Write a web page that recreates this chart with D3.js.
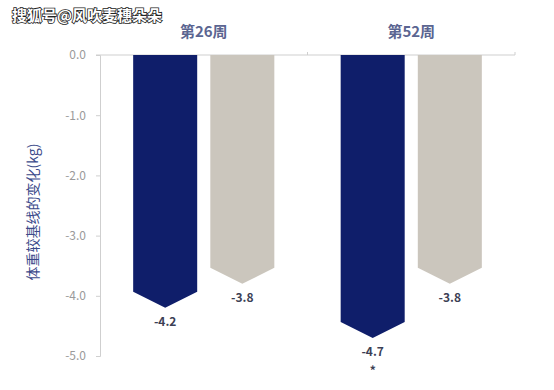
<!DOCTYPE html>
<html>
<head>
<meta charset="utf-8">
<title>体重变化</title>
<script src="https://cdn.jsdelivr.net/npm/d3@7"></script>
<style>
body { margin: 0; background: #fff; }
text { font-family: "Noto Sans CJK SC", "Noto Sans", sans-serif; }
.tick text { fill: #9a9a9a; font-size: 12px; }
.tick line, .domain { stroke: #cfcfcf; }
.val { font-size: 12px; font-weight: bold; fill: #3c3f55; text-anchor: middle; }
</style>
</head>
<body>
<script>
var weeks = ["第26周", "第52周"];
var series = ["A", "B"];
var valuesA = [-4.2, -4.7];
var valuesB = [-3.8, -3.8];
var yTicks = [0, -1, -2, -3, -4, -5];
var marks = ["", "*"];

var width = 554, height = 390;
var margin = {top: 55, right: 39, bottom: 34, left: 100};

// plain hyphen instead of unicode minus
function fmt(v) { return v.toFixed(1); }

var svg = d3.select("body").append("svg")
    .attr("width", width)
    .attr("height", height);

var x = d3.scaleBand()
    .domain(weeks)
    .range([margin.left, width - margin.right]);

var xs = d3.scaleBand()
    .domain(series)
    .range([0, x.bandwidth()])
    .paddingInner(0.17)
    .paddingOuter(0.43);

var y = d3.scaleLinear()
    .domain([0, -5])
    .range([margin.top, height - margin.bottom]);

var color = {A: "#0f1e6a", B: "#cbc6bd"};

// y axis
svg.append("g")
    .attr("transform", "translate(" + margin.left + ",0)")
    .call(d3.axisLeft(y).tickValues(yTicks).tickSize(4).tickPadding(10)
      .tickFormat(fmt));

// top baseline with category separators
svg.append("line")
    .attr("x1", margin.left - 4).attr("x2", width - margin.right)
    .attr("y1", y(0)).attr("y2", y(0))
    .attr("stroke", "#cfcfcf");
svg.selectAll(".sep")
    .data(weeks)
    .enter().append("line")
    .attr("x1", function(d) { return x(d) + x.bandwidth(); })
    .attr("x2", function(d) { return x(d) + x.bandwidth(); })
    .attr("y1", y(0) - 3).attr("y2", y(0))
    .attr("stroke", "#cfcfcf");

// group labels
svg.selectAll(".wk")
    .data(weeks)
    .enter().append("text")
    .attr("x", function(d) { return x(d) + x.bandwidth() / 2; })
    .attr("y", 37)
    .attr("text-anchor", "middle")
    .attr("font-size", 15)
    .attr("font-weight", "bold")
    .attr("fill", "#5b6591")
    .text(function(d) { return d; });

// bars with pointed bottoms
var rows = [];
weeks.forEach(function(w, i) {
  rows.push({week: w, s: "A", v: valuesA[i], mark: marks[i]});
  rows.push({week: w, s: "B", v: valuesB[i], mark: ""});
});

function barPath(d) {
  var x0 = x(d.week) + xs(d.s), bw = xs.bandwidth();
  var tip = bw / 4;
  var yb = y(d.v);
  return "M" + x0 + "," + y(0) +
    "L" + (x0 + bw) + "," + y(0) +
    "L" + (x0 + bw) + "," + (yb - tip) +
    "L" + (x0 + bw / 2) + "," + yb +
    "L" + x0 + "," + (yb - tip) + "Z";
}

svg.selectAll(".bar")
    .data(rows)
    .enter().append("path")
    .attr("d", barPath)
    .attr("fill", function(d) { return color[d.s]; });

svg.selectAll(".val")
    .data(rows)
    .enter().append("text")
    .attr("class", "val")
    .attr("x", function(d) { return x(d.week) + xs(d.s) + xs.bandwidth() / 2; })
    .attr("y", function(d) { return y(d.v) + 18; })
    .text(function(d) { return fmt(d.v); });

svg.selectAll(".mark")
    .data(rows.filter(function(d) { return d.mark; }))
    .enter().append("text")
    .attr("class", "val")
    .attr("x", function(d) { return x(d.week) + xs(d.s) + xs.bandwidth() / 2; })
    .attr("y", function(d) { return y(d.v) + 37; })
    .text(function(d) { return d.mark; });

// y title
svg.append("text")
    .attr("transform", "translate(38," + 212 + ") rotate(-90)")
    .attr("text-anchor", "middle")
    .attr("font-size", 14)
    .attr("fill", "#3b4a8a")
    .text("体重较基线的变化(kg)");

// watermark
svg.append("text")
    .attr("x", 12).attr("y", 21)
    .attr("font-size", 15)
    .attr("font-weight", "bold")
    .attr("fill", "#fff")
    .attr("stroke", "#222")
    .attr("stroke-width", 1.6)
    .attr("paint-order", "stroke")
    .text("搜狐号@风吹麦穗朵朵");
</script>
</body>
</html>
